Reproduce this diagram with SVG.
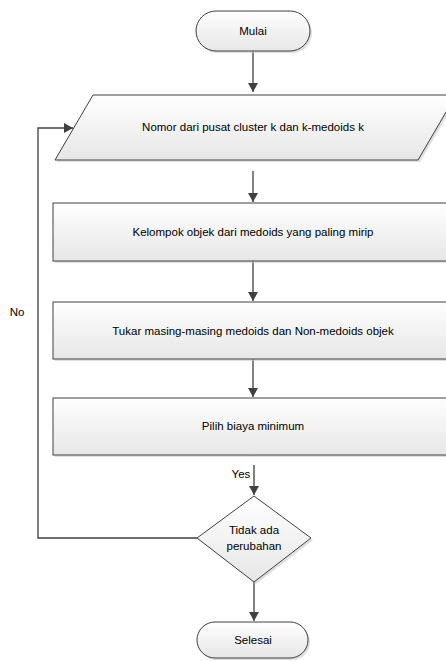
<svg xmlns="http://www.w3.org/2000/svg" width="446" height="661" viewBox="0 0 446 661">
<defs>
<linearGradient id="g" x1="0" y1="0" x2="0" y2="1">
<stop offset="0" stop-color="#ffffff"/>
<stop offset="1" stop-color="#e6e6e6"/>
</linearGradient>
<marker id="ah" markerWidth="10" markerHeight="10" refX="9" refY="5" orient="auto" markerUnits="userSpaceOnUse">
<path d="M0,0 L9,5 L0,10 Z" fill="#404040"/>
</marker>
</defs>
<style>
.s{fill:url(#g);stroke:#404040;stroke-width:1}
.sh{fill:#c8c8c8;opacity:0.6}
.t{font-family:"Liberation Sans",Arial,sans-serif;font-size:11.5px;fill:#000;text-anchor:middle}
.c{fill:none;stroke:#404040;stroke-width:1.3}
</style>
<rect width="446" height="661" fill="#ffffff"/>
<g id="connectors">
<path class="c" d="M253,51 V92" marker-end="url(#ah)"/>
<path class="c" d="M253,171 V202" marker-end="url(#ah)"/>
<path class="c" d="M253,261 V301" marker-end="url(#ah)"/>
<path class="c" d="M253,359 V397" marker-end="url(#ah)"/>
<path class="c" d="M254,465 V495" marker-end="url(#ah)"/>
<path class="c" d="M254,582 V621" marker-end="url(#ah)"/>
<path class="c" d="M197,538 H38 V128 H73" marker-end="url(#ah)"/>
<text class="t" x="241" y="478">Yes</text>
<text class="t" x="17" y="316">No</text>
</g>
<g id="mulai">
<rect class="sh" x="198" y="13" width="114" height="40" rx="20"/>
<rect class="s" x="196" y="11" width="114" height="40" rx="20"/>
<text class="t" x="253" y="35">Mulai</text>
</g>
<g id="input">
<path class="sh" d="M95,97 H458 L420,162 H57 Z"/>
<path class="s" d="M93,95 H456 L418,160 H55 Z"/>
<text class="t" x="253" y="131">Nomor dari pusat cluster k dan k-medoids k</text>
</g>
<g id="kelompok">
<rect class="sh" x="55" y="205" width="405" height="58"/>
<rect class="s" x="53" y="203" width="405" height="58"/>
<text class="t" x="253" y="236">Kelompok objek dari medoids yang paling mirip</text>
</g>
<g id="tukar">
<rect class="sh" x="55" y="304" width="405" height="57"/>
<rect class="s" x="53" y="302" width="405" height="57"/>
<text class="t" x="253" y="335">Tukar masing-masing medoids dan Non-medoids objek</text>
</g>
<g id="pilih">
<rect class="sh" x="55" y="400" width="405" height="57"/>
<rect class="s" x="53" y="398" width="405" height="57"/>
<text class="t" x="253" y="430">Pilih biaya minimum</text>
</g>
<g id="keputusan">
<path class="sh" d="M256,498 L313,540 L256,584 L199,540 Z"/>
<path class="s" d="M254,496 L311,538 L254,582 L197,538 Z"/>
<text class="t" x="254" y="534">Tidak ada</text>
<text class="t" x="254" y="550">perubahan</text>
</g>
<g id="selesai">
<rect class="sh" x="199" y="624" width="111" height="36" rx="18"/>
<rect class="s" x="197" y="622" width="111" height="36" rx="18"/>
<text class="t" x="253" y="644">Selesai</text>
</g>
</svg>
